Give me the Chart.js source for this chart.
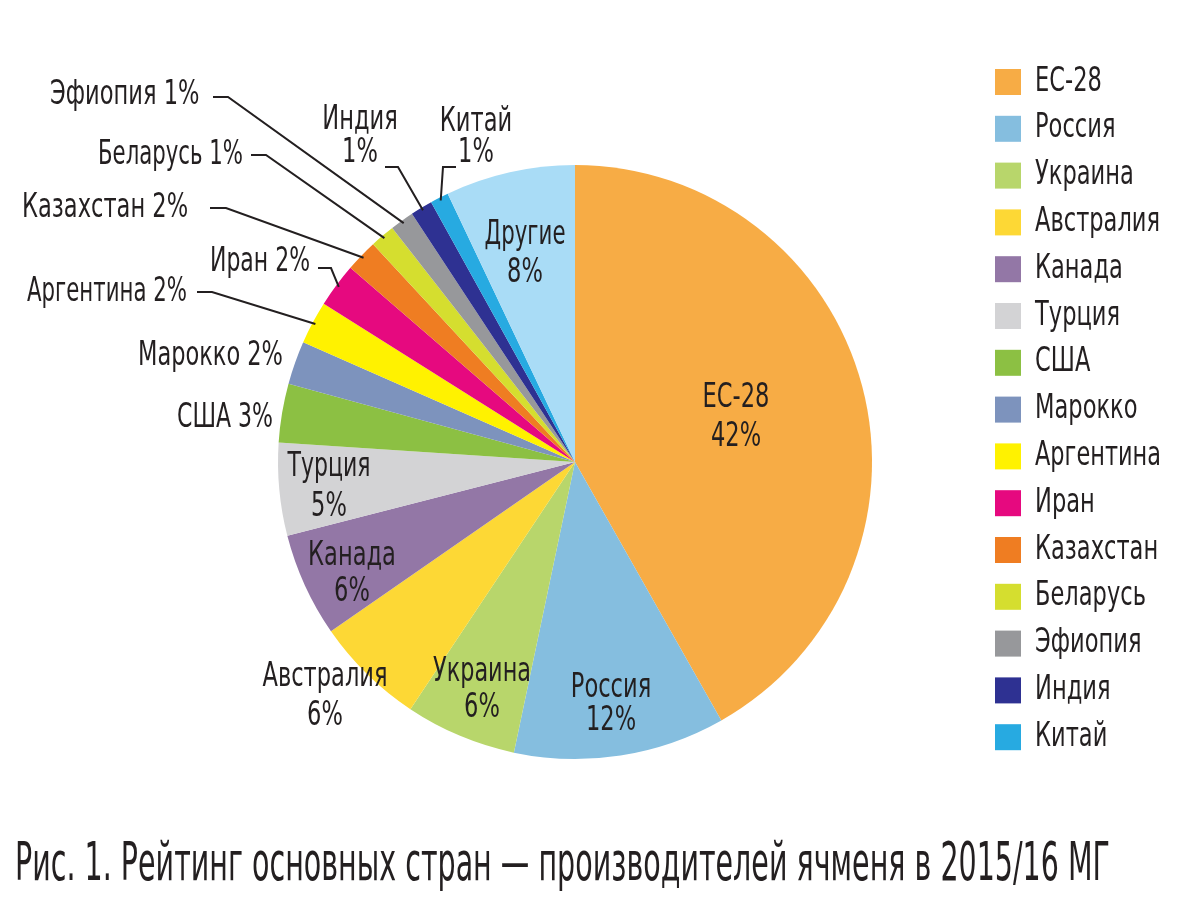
<!DOCTYPE html>
<html lang="ru">
<head>
<meta charset="utf-8">
<title>Рейтинг основных стран – производителей ячменя</title>
<script src="https://cdn.jsdelivr.net/npm/chart.js@4.4.0/dist/chart.umd.min.js"></script>
<style>
  html, body { margin: 0; padding: 0; background: #fff; }
  #wrap { position: relative; width: 1178px; height: 913px; }
</style>
</head>
<body>
<div id="wrap"><canvas id="barleyChart"></canvas></div>
<script>
const countries = ['ЕС-28', 'Россия', 'Украина', 'Австралия', 'Канада', 'Турция', 'США', 'Марокко',
  'Аргентина', 'Иран', 'Казахстан', 'Беларусь', 'Эфиопия', 'Индия', 'Китай', 'Другие'];
// slice sizes as drawn (share of world output, %)
const shares = [41.8, 11.5, 6.05, 6.0, 5.65, 5.05, 3.2, 2.35, 2.35, 2.4, 1.75, 1.35, 1.3, 1.2, 1.0, 7.05];
// percent as printed on the figure
const shareLabels = ['42%', '12%', '6%', '6%', '6%', '5%', '3%', '2%', '2%', '2%', '2%', '1%', '1%', '1%', '1%', '8%'];
const sliceColors = ['#f7ac45', '#85bedf', '#b8d66b', '#fdd835', '#9377a6', '#d3d3d5', '#8cc043', '#7d93bd',
  '#fff200', '#e6097f', '#ef7d22', '#d5de2f', '#97989b', '#2e3192', '#27aae1', '#a9dcf6'];
const legendCount = 15; // "Другие" is not in the legend
const caption = 'Рис. 1. Рейтинг основных стран — производителей ячменя в 2015/16 МГ';

const FONT = "'Liberation Sans Narrow', 'DejaVu Sans Condensed', sans-serif";
const INK = '#231f20';
const SQUEEZE = 0.76; // the print face is much narrower than anything installed

// where each slice's label sits; stacked = name above percent, centred on x
const labelSpots = [
  { stacked: true, x: 736, y: 398, gap: 39, w: 72 },
  { stacked: true, x: 611, y: 688, gap: 33, w: 84 },
  { stacked: true, x: 482, y: 672, gap: 36, w: 98 },
  { stacked: true, x: 325, y: 677, gap: 39, w: 126 },
  { stacked: true, x: 352, y: 556, gap: 36, w: 88 },
  { stacked: true, x: 329, y: 467, gap: 40, w: 83 },
  { x: 177, y: 418, w: 96 },
  { x: 138, y: 356, w: 145 },
  { x: 27, y: 292, w: 160, lead: [[197, 292], [212, 292]] },
  { x: 210, y: 262, w: 100, lead: [[318, 268], [331, 268]] },
  { x: 22, y: 208, w: 168, lead: [[210, 208], [226, 208]] },
  { x: 98, y: 155, w: 145, lead: [[251, 155], [266, 155]] },
  { x: 50, y: 95, w: 155, lead: [[213, 97], [228, 97]] },
  { stacked: true, x: 360, y: 120, gap: 33, w: 76, lead: [[385, 167], [398, 167]] },
  { stacked: true, x: 476, y: 122, gap: 31, w: 75, lead: [[456, 167], [443, 167]] },
  { stacked: true, x: 525, y: 235, gap: 38, w: 81 }
];

function put(ctx, str, x, y, size, maxW, align) {
  ctx.font = size + 'px ' + FONT;
  ctx.textAlign = align || 'center';
  ctx.textBaseline = 'middle';
  const natural = ctx.measureText(str).width * SQUEEZE;
  ctx.fillText(str, x, y, maxW ? Math.min(maxW, natural) : natural);
}

const figureText = {
  id: 'figureText',
  afterDraw(chart) {
    const ctx = chart.ctx;
    const meta = chart.getDatasetMeta(0);
    ctx.save();
    ctx.fillStyle = INK;
    ctx.strokeStyle = INK;
    ctx.lineWidth = 2;

    labelSpots.forEach((s, i) => {
      const name = chart.data.labels[i];
      if (s.stacked) {
        put(ctx, name, s.x, s.y, 33, s.w);
        put(ctx, shareLabels[i], s.x, s.y + s.gap, 33);
      } else {
        put(ctx, name + ' ' + shareLabels[i], s.x, s.y, 33, s.w, 'left');
      }
      if (s.lead) {
        const arc = meta.data[i];
        const mid = (arc.startAngle + arc.endAngle) / 2;
        const r = arc.outerRadius - 3;
        ctx.beginPath();
        ctx.moveTo(s.lead[0][0], s.lead[0][1]);
        ctx.lineTo(s.lead[1][0], s.lead[1][1]);
        ctx.lineTo(arc.x + Math.cos(mid) * r, arc.y + Math.sin(mid) * r);
        ctx.stroke();
      }
    });

    // legend
    const colors = chart.data.datasets[0].backgroundColor;
    for (let i = 0; i < legendCount; i++) {
      const cy = 82 + i * 46.8;
      ctx.fillStyle = colors[i];
      ctx.fillRect(995, cy - 13, 26, 26);
      ctx.fillStyle = INK;
      put(ctx, chart.data.labels[i], 1035, cy, 33, 126, 'left');
    }

    put(ctx, caption, 15, 866, 54, 1095, 'left');
    ctx.restore();
  }
};

new Chart(document.getElementById('barleyChart'), {
  type: 'pie',
  data: {
    labels: countries,
    datasets: [{
      data: shares,
      backgroundColor: sliceColors,
      borderWidth: 0
    }]
  },
  options: {
    responsive: true,
    maintainAspectRatio: false,
    animation: false,
    layout: { padding: { left: 278, right: 306, top: 165, bottom: 154 } },
    plugins: {
      legend: { display: false },
      tooltip: { enabled: false }
    }
  },
  plugins: [figureText]
});
</script>
</body>
</html>
